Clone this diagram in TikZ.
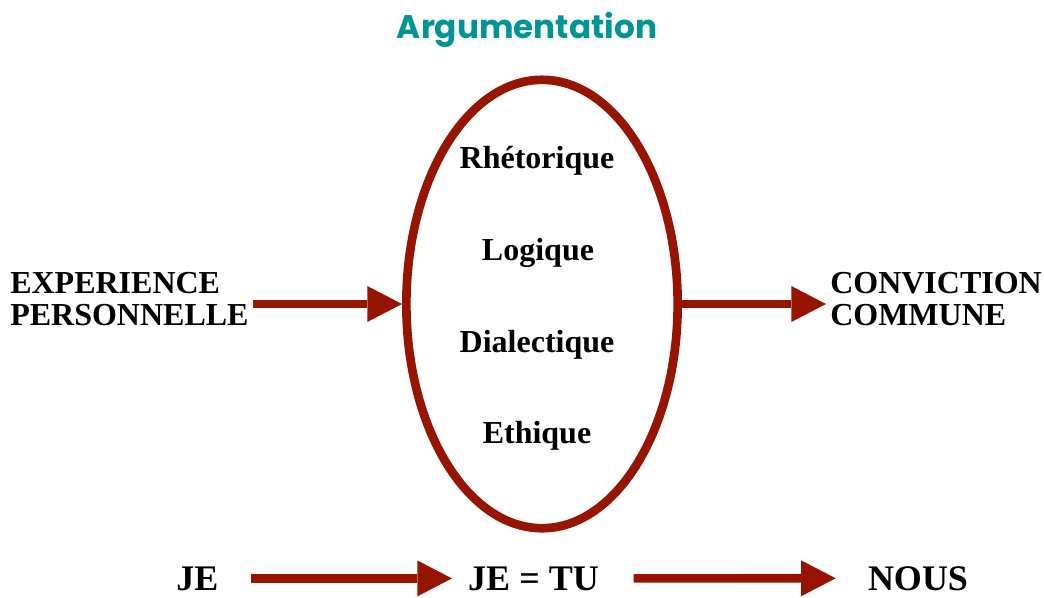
\documentclass[tikz,border=0pt]{standalone}
\usepackage{fontspec}
\setmainfont{Liberation Serif}
\newfontfamily\titlefont{Poppins}
\usepackage{tikz}
\usetikzlibrary{positioning,shapes.geometric,arrows.meta}

\begin{document}
\begin{tikzpicture}[
    x=0.75pt, y=-0.75pt,
    font=\fontsize{24}{24}\selectfont\bfseries,
    etiq/.style={align=left, inner sep=0pt, inner xsep=3pt, anchor=north west},
    terme/.style={inner sep=0pt, anchor=base},
    mot/.style={terme, font=\fontsize{27}{30}\selectfont\bfseries},
    flow/.style={draw=argred, line width=6.5pt,
                 -{Triangle[length=26pt,width=27pt,line width=0pt]}},
  ]
  \definecolor{argred}{HTML}{961400}
  \definecolor{titlecol}{HTML}{009494}

  \useasboundingbox (0,0) rectangle (1044,597);

  % ========================= TITRE ===========================
  \node[font=\titlefont\fontsize{24.5}{28}\selectfont\bfseries, text=titlecol]
    (title) at (527,30) {Argumentation};

  % ======================== ELLIPSE ==========================
  \node[ellipse, draw=argred, line width=6.5pt, inner sep=0pt,
        minimum width=203.5pt, minimum height=336.3pt] (arg) at (542,304) {};
  \node[terme] (rhet) at (537,168) {Rhétorique};
  \node[terme] (logi) at (538,260) {Logique};
  \node[terme] (dial) at (537,352) {Dialectique};
  \node[terme] (ethi) at (537,443) {Ethique};

  % ======================== COTES ============================
  \node[etiq] (exp) at (6,272) {EXPERIENCE\\PERSONNELLE};
  \node[etiq] (conv) at (826,272) {CONVICTION\\COMMUNE};

  % ======================== BAS ==============================
  \node[mot] (je) at (197.5,590) {JE};
  \node[mot] (jetu) at (533.5,590) {JE = TU};
  \node[mot] (nous) at (918,590) {NOUS};

  % ======================== FLECHES ==========================
  \draw[flow] (exp.east |- arg) -- (arg.west);
  \draw[flow] (arg.east) -- (conv.west |- arg.east);
  \draw[flow, shorten <=24pt, shorten >=12pt] (je.east) -- (jetu.west);
  \draw[flow, shorten <=26pt, shorten >=24pt] (jetu.east) -- (nous.west);
\end{tikzpicture}
\end{document}
